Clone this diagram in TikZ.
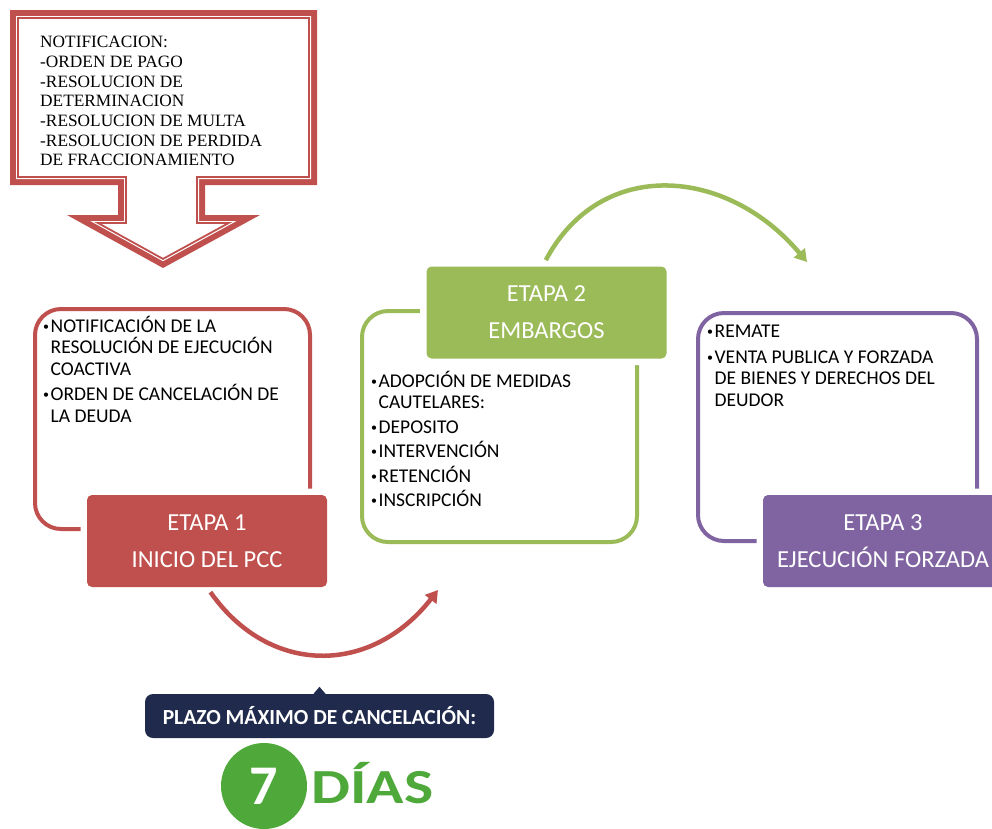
\documentclass[tikz,border=0pt]{standalone}
\usepackage{fontspec}
\usepackage{graphicx}
\setmainfont{Carlito}
\newfontfamily\notifont{Liberation Serif}
\usetikzlibrary{arrows.meta}

\definecolor{etaparoja}{HTML}{C0504D}
\definecolor{etapaverde}{HTML}{9BBB59}
\definecolor{etapamorada}{HTML}{8064A2}
\definecolor{plazoazul}{HTML}{1F2A4C}
\definecolor{diasverde}{HTML}{4EA83A}

\newcommand{\punto}{\raisebox{2pt}{\fontsize{12}{12}\selectfont\textbullet}\hspace{1.5pt}}
\newcommand{\sangria}{\hphantom{\punto}}

\begin{document}
\begin{tikzpicture}[x=1pt,y=1pt,
    marco/.style={line width=4pt,rounded corners=26pt},
    etapa/.style={fill=#1,rounded corners=5pt,minimum width=240pt,minimum height=92pt,
        inner sep=0pt,text=white,align=center,font=\fontsize{24.5}{37}\selectfont,
        preaction={draw=white,line width=13pt}},
    lista/.style={anchor=north west,inner sep=0pt,align=left,font=\fontsize{19.5}{21.5}\selectfont},
    flecha/.style={line width=4.5pt,#1,-{Triangle[length=12pt,width=14pt]}}]
    \useasboundingbox (0,0) rectangle (992,-828);
    \clip (0,0) rectangle (992,-828);

    % Notificacion (flecha hacia abajo)
    \fill[etaparoja] (10,-10) -- (317,-10) -- (317,-185) -- (205,-185) -- (205,-215)
        -- (260,-215) -- (163,-268) -- (67,-215) -- (118,-215) -- (118,-185) -- (10,-185) -- cycle;
    \fill[white] (16,-16) -- (311,-16) -- (311,-179) -- (199,-179) -- (199,-221)
        -- (236.6,-221) -- (163,-261.2) -- (90.3,-221) -- (124,-221) -- (124,-179) -- (16,-179) -- cycle;
    \draw[etaparoja,line width=1.8pt] (18,-18) -- (309,-18) -- (309,-177) -- (197,-177) -- (197,-223)
        -- (228.7,-223) -- (163,-258.9) -- (98,-223) -- (126,-223) -- (126,-177) -- (18,-177) -- cycle;
    \node[anchor=north west,inner sep=0pt,align=left,font=\notifont\fontsize{17.3}{19.7}\selectfont]
        (notif) at (40,-36) {NOTIFICACION:\\-ORDEN DE PAGO\\-RESOLUCION DE\\DETERMINACION\\
        -RESOLUCION DE MULTA\\-RESOLUCION DE PERDIDA\\DE FRACCIONAMIENTO};

    % Marcos
    \draw[marco,etaparoja] (35,-309) rectangle (310,-529);
    \draw[marco,etapaverde] (362,-311) rectangle (637,-542);
    \draw[marco,etapamorada] (698,-313) rectangle (977,-541);

    % Etapas
    \node[etapa=etaparoja] (etapa1) at (207,-541) {ETAPA 1\\INICIO DEL PCC};
    \node[etapa=etapaverde] (etapa2) at (546.5,-312.5) {ETAPA 2\\EMBARGOS};
    \node[etapa=etapamorada] (etapa3) at (883,-541) {ETAPA 3\\EJECUCIÓN FORZADA};

    \node[lista] (lista1) at (43,-316) {\punto NOTIFICACIÓN DE LA\\\sangria RESOLUCIÓN DE EJECUCIÓN\\
        \sangria COACTIVA\\[4pt]\punto ORDEN DE CANCELACIÓN DE\\\sangria LA DEUDA};
    \node[lista] (lista2) at (371,-371) {\punto ADOPCIÓN DE MEDIDAS\\\sangria CAUTELARES:\\[3pt]
        \punto DEPOSITO\\[3pt]\punto INTERVENCIÓN\\[3pt]\punto RETENCIÓN\\[3pt]\punto INSCRIPCIÓN};
    \node[lista] (lista3) at (707,-325) {\punto REMATE\\[4pt]\punto VENTA PUBLICA Y FORZADA\\
        \sangria DE BIENES Y DERECHOS DEL\\\sangria DEUDOR};

    % Flechas
    \coordinate (fin1) at (438,-590);
    \coordinate (fin2) at (807,-262);
    \draw[flecha=etaparoja,shorten <=6pt] (etapa1.south) to[out=-55,in=-128,looseness=1.2] (fin1);
    \draw[flecha=etapaverde,shorten <=7pt] ([xshift=-4pt]etapa2.north) to[out=62,in=130,looseness=1.2] (fin2);

    % Plazo
    \node[fill=plazoazul,rounded corners=8pt,minimum width=349pt,minimum height=44pt,text=white,
        font=\bfseries\fontsize{21.5}{24}\selectfont] (plazo) at (319.5,-716) {PLAZO MÁXIMO DE CANCELACIÓN:};
    \fill[plazoazul] ([xshift=-6pt]plazo.north) -- ([yshift=7pt]plazo.north) -- ([xshift=6pt]plazo.north) -- cycle;
    \node[circle,fill=diasverde,minimum size=86pt,inner sep=0pt,text=white,
        font=\bfseries\fontsize{56}{56}\selectfont] (siete) at (264,-786) {7};
    \node[anchor=base west,inner sep=0pt,text=diasverde,font=\bfseries\fontsize{49}{49}\selectfont]
        (dias) at (311,-803) {\scalebox{1.26}[1]{DÍAS}};
\end{tikzpicture}
\end{document}
